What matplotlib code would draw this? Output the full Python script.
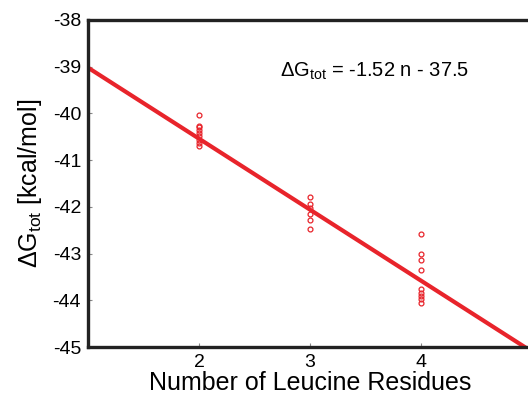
import matplotlib.pyplot as plt
import numpy as np

plt.rcParams['font.family'] = ['Liberation Sans', 'DejaVu Sans']
plt.rcParams['axes.unicode_minus'] = False
plt.rcParams['mathtext.fontset'] = 'custom'
plt.rcParams['mathtext.rm'] = 'Liberation Sans'

# data
n_two = [-40.03, -40.26, -40.30, -40.36, -40.41, -40.48, -40.57, -40.64, -40.70]
n_three = [-41.79, -41.93, -42.03, -42.15, -42.29, -42.48]
n_four = [-42.59, -43.00, -43.14, -43.36, -43.75, -43.84, -43.91, -43.97, -44.05]
slope = -1.52
intercept = -37.5

red = '#e8242b'

fig = plt.figure(figsize=(5.28, 3.96), dpi=100)
ax = fig.add_axes([88/528, 49/396, 444/528, 327/396])

for n, vals in [(2, n_two), (3, n_three), (4, n_four)]:
    ax.plot([n]*len(vals), vals, 'o', mfc='none', mec=red, ms=3.5, mew=0.9)

xs = np.array([1, 5])
ax.plot(xs, slope*xs + intercept, color=red, lw=3)

ax.set_xlim(1, 5)
ax.set_ylim(-45, -38)
ax.set_xticks([2, 3, 4])
ax.set_yticks(range(-45, -37))
ax.tick_params(direction='in', length=3, width=0.8, color='#888888', labelsize=14, pad=5)
for s in ['left', 'bottom', 'top']:
    ax.spines[s].set_linewidth(2.4)
    ax.spines[s].set_color('#222222')
ax.spines['right'].set_visible(False)

ax.set_xlabel('Number of Leucine Residues', fontsize=18, labelpad=0)
ax.set_ylabel(r'$\Delta$G$_{\mathrm{tot}}$ [kcal/mol]', fontsize=18, labelpad=6)
ax.text(2.73, -39.1, r'$\Delta$G$_{\mathrm{tot}}$ = -1.52 n - 37.5', fontsize=14.5, va='center')

fig.savefig('out.png', dpi=100)
